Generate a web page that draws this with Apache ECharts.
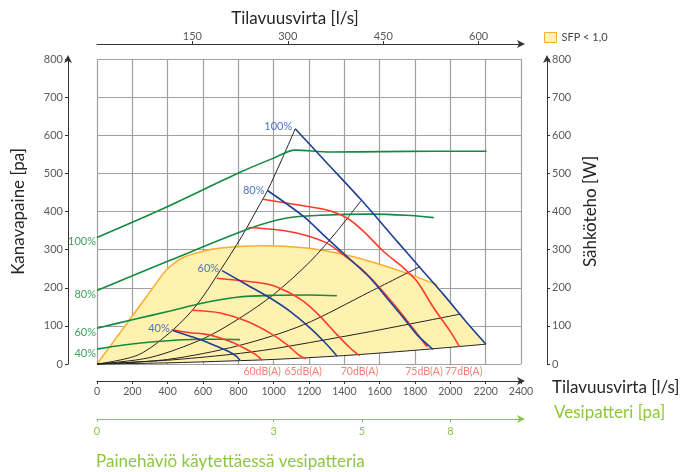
<!DOCTYPE html>
<html><head><meta charset="utf-8">
<script src="https://cdn.jsdelivr.net/npm/echarts@6/dist/echarts.min.js"></script>
<style>html,body{margin:0;padding:0;background:#fff}#c{width:680px;height:472px}</style>
</head><body><div id="c"></div>
<script>
// ---- Data (x = flow, bottom scale; y = pressure [pa] or power [W]) ----
// Fan curves (pressure) at fan speeds
const fan100 = [[1122,617],[1300,528],[1500,428],[1700,321],[1830,252],[1962,182],[2104,103],[2202,52]];
const fan80  = [[965,455],[1169,387],[1301,330],[1415,282],[1547,225],[1641,173],[1735,121],[1811,77],[1902,38]];
const fan60  = [[708,245],[848,208],[980,173],[1093,138],[1207,94],[1301,51],[1358,21]];
const fan40  = [[429,88],[527,73],[602,61],[700,42],[753,31],[790,20],[810,9]];
const fanLabels = ['100%','80%','60%','40%'];

// Electric power curves [W]
const power100 = [[0,332],[357,404],[810,503],[1000,540],[1120,561],[1320,556],[1620,557],[1900,558],[2205,558]];
const power80  = [[0,193],[414,272],[867,356],[1075,383],[1263,390],[1547,393],[1750,390],[1906,384]];
const power60  = [[0,94],[200,116],[414,139],[600,160],[791,175],[980,180],[1200,181],[1358,179]];
const power40  = [[0,39],[150,50],[338,59],[583,65],[700,65],[810,64]];
const powerLabels = ['100%','80%','60%','40%'];

// Sound level curves
const db60 = [[423,90],[527,82],[602,79],[680,71],[772,56],[848,38],[900,24],[935,10]];
const db65 = [[537,141],[697,134],[848,112],[980,81],[1075,51],[1141,24],[1184,14]];
const db70 = [[678,225],[848,217],[980,208],[1075,190],[1169,164],[1263,125],[1358,77],[1433,42],[1486,22]];
const db75 = [[857,358],[1018,352],[1169,339],[1301,317],[1396,286],[1490,252],[1585,208],[1698,147],[1773,103],[1868,45]];
const db77 = [[939,432],[1169,415],[1301,404],[1415,383],[1509,348],[1622,295],[1735,252],[1811,217],[1906,147],[2000,85],[2053,45]];
const dbLabels = ['60dB(A)','65dB(A)','70dB(A)','75dB(A)','77dB(A)'];

// System curves
const sys1 = [[0,0],[234,24],[429,89],[565,155],[697,245],[820,335],[905,405],[965,455],[1040,530],[1122,617]];
const sys2 = [[0,0],[300,17],[600,66],[800,118],[999,182],[1207,269],[1358,348],[1494,428]];
const sys3 = [[0,0],[400,12],[800,48],[1169,103],[1547,190],[1830,256]];
const sys4 = [[0,0],[400,10],[754,25],[1000,40],[1547,85],[2057,131]];
const sys5 = [[0,0],[400,3],[754,8],[1000,12],[1396,22],[1800,36],[2202,52]];

// SFP < 1,0 region upper boundary
const sfpUpper = [[0,0],[140,88],[281,177],[395,248],[489,280],[602,296],[700,304],[942,310],[1169,305],[1358,291],[1547,269],[1735,241],[1925,208]];

// Water coil pressure-drop axis
const waterTickFlow = [0,1000,1500,2000];
const waterTickLabels = ['0','3','5','8'];

// ---- Styling ----
const FONT = 'Lato';
const C_BLUE = '#1d3f94', C_BLUE_T = '#4a74c4';
const C_GREEN = '#138a3e', C_GREEN_T = '#3da35d';
const C_RED = '#ff3a2b', C_RED_T = '#f4604f';
const C_BLACK = '#222';
const C_ORANGE = '#f7ae2e', C_YELLOW = '#fff2b0';
const C_LIGHTGREEN = '#8dc63f';
const dbLabelNudge = [0, -3, 0, -3, 4]; // horizontal label nudges (px)

const sfpLast = sfpUpper[sfpUpper.length - 1][0];
const sfpPolygon = sfpUpper
  .concat(fan100.filter(p => p[0] > sfpLast))
  .concat(sys5.slice().reverse());

function withStartLabel(points, text, color, dist, off) {
  return points.map((p, i) => i === 0 ? {
    value: p,
    label: { show: true, position: 'left', distance: dist, offset: off, formatter: text,
             color: color, fontSize: 11, fontFamily: FONT }
  } : p);
}
function lineSeries(name, data, color, width, yIdx, z) {
  return { type: 'line', name: name, data: data, xAxisIndex: 0, yAxisIndex: yIdx,
    showSymbol: true, showAllSymbol: true, symbol: 'circle', symbolSize: 0,
    smooth: 0.3, z: z, silent: true, clip: false,
    lineStyle: { color: color, width: width }, itemStyle: { color: color } };
}

const series = [];
series.push({
  type: 'custom', name: 'SFP < 1,0', xAxisIndex: 0, yAxisIndex: 0, z: 1, silent: true,
  data: sfpPolygon,
  renderItem: function (params, api) {
    if (params.dataIndex !== 0) return null;
    return { type: 'polygon', shape: { points: sfpPolygon.map(p => api.coord(p)) },
             style: { fill: C_YELLOW } };
  }
});
series.push({ type: 'line', data: sfpUpper, xAxisIndex: 0, yAxisIndex: 0, symbol: 'none', z: 2,
  smooth: 0.25, silent: true, lineStyle: { color: C_ORANGE, width: 1.5 } });

[sys1, sys2, sys3, sys4, sys5].forEach((s, i) => series.push(lineSeries('sys' + i, s, C_BLACK, 1, 0, 3)));

const powers = [power100, power80, power60, power40];
powers.forEach((p, i) => series.push(lineSeries('pow' + i,
  withStartLabel(p, powerLabels[i], C_GREEN_T, 1, [0, 4]), C_GREEN, 1.6, 1, 4)));

const fans = [fan100, fan80, fan60, fan40];
const fanLabelOff = [[0, -2], [0, 0], [0, -2], [0, -2]];
fans.forEach((f, i) => series.push(lineSeries('fan' + i,
  withStartLabel(f, fanLabels[i], C_BLUE_T, 3, fanLabelOff[i]), C_BLUE, 1.6, 0, 6)));

const dbs = [db60, db65, db70, db75, db77];
dbs.forEach((d, i) => series.push(lineSeries('db' + i, d, C_RED, 1.6, 0, 5)));

// dB labels under the end of each sound curve
series.push({
  type: 'scatter', xAxisIndex: 0, yAxisIndex: 0, clip: false, silent: true, z: 7,
  symbolSize: 1, itemStyle: { color: 'rgba(0,0,0,0)' },
  data: dbs.map((d, i) => ({ name: dbLabels[i], value: [d[d.length - 1][0], -19],
                             label: { offset: [dbLabelNudge[i], 0] } })),
  label: { show: true, position: 'inside', formatter: p => p.name, color: C_RED_T,
           fontSize: 10.5, fontFamily: FONT }
});

const axisCommon = (color) => ({
  axisLine: { show: true, onZero: false, lineStyle: { color: color, width: 1 }, symbol: ['none', 'arrow'],
              symbolSize: [6, 8], symbolOffset: [0, 4] },
  axisTick: { show: true, length: 3, lineStyle: { color: color } },
});
const plain = v => String(v);

const option = {
  animation: false,
  backgroundColor: '#fff',
  textStyle: { fontFamily: FONT },
  title: [
    { text: 'Tilavuusvirta [l/s]', left: 290, top: 5, textAlign: 'center',
      textStyle: { fontSize: 17, fontWeight: 'normal', color: '#262626', fontFamily: FONT } },
    { text: 'Painehäviö käytettäessä vesipatteria', left: 91, top: 448,
      textStyle: { fontSize: 17, fontWeight: 'normal', color: C_LIGHTGREEN, fontFamily: FONT } }
  ],
  legend: {
    left: 544, top: 32, padding: 0, itemWidth: 12, itemHeight: 10, itemGap: 4,
    textStyle: { fontSize: 11, color: '#444', fontFamily: FONT },
    data: [{ name: 'SFP < 1,0', icon: 'rect',
             itemStyle: { color: C_YELLOW, borderColor: C_ORANGE, borderWidth: 1 } }]
  },
  grid: { left: 97, top: 59, width: 424, height: 305, containLabel: false, outerBoundsMode: 'none' },
  xAxis: [
    Object.assign({ type: 'value', min: 0, max: 2400, interval: 200, position: 'bottom', offset: 17,
      axisLabel: { fontSize: 10.5, color: '#595959', margin: 5, fontFamily: FONT, formatter: plain },
      splitLine: { show: true, lineStyle: { color: '#a0a0a0', width: 1.2 } },
      name: 'Tilavuusvirta [l/s]', nameLocation: 'end', nameGap: 31,
      nameTextStyle: { fontSize: 17, color: '#262626', fontFamily: FONT, verticalAlign: 'top', lineHeight: 14 }
    }, axisCommon('#333')),
    Object.assign({ type: 'value', min: 0, max: 2400 / 3.6, interval: 150, position: 'top', offset: 15,
      axisLabel: { fontSize: 11, color: '#595959', margin: 2, showMinLabel: false, fontFamily: FONT, formatter: plain },
      splitLine: { show: false }
    }, axisCommon('#333')),
    Object.assign({ type: 'value', min: 0, max: 2400, position: 'bottom', offset: 55,
      axisLabel: { fontSize: 11, color: C_LIGHTGREEN, margin: 7, fontFamily: FONT,
                   customValues: waterTickFlow,
                   formatter: v => { const k = waterTickFlow.indexOf(v); return k >= 0 ? waterTickLabels[k] : ''; } },
      splitLine: { show: false },
      name: 'Vesipatteri [pa]', nameLocation: 'end', nameGap: 33,
      nameTextStyle: { fontSize: 17, color: C_LIGHTGREEN, fontFamily: FONT, verticalAlign: 'bottom', lineHeight: 12 }
    }, axisCommon(C_LIGHTGREEN), { axisTick: { show: true, length: 3, customValues: waterTickFlow,
                                               lineStyle: { color: C_LIGHTGREEN } } })
  ],
  yAxis: [
    Object.assign({ type: 'value', min: 0, max: 800, interval: 100, position: 'left', offset: 29,
      axisLabel: { fontSize: 11, color: '#595959', margin: 5, fontFamily: FONT, formatter: plain },
      splitLine: { show: true, lineStyle: { color: '#a0a0a0', width: 1.2 } },
      name: 'Kanavapaine [pa]', nameLocation: 'middle', nameGap: 41, nameRotate: 90,
      nameTextStyle: { fontSize: 17, color: '#262626', fontFamily: FONT }
    }, axisCommon('#333')),
    Object.assign({ type: 'value', min: 0, max: 800, interval: 100, position: 'right', offset: 26,
      axisLabel: { fontSize: 11, color: '#595959', margin: 5, fontFamily: FONT, formatter: plain },
      splitLine: { show: false },
      name: 'Sähköteho [W]', nameLocation: 'middle', nameGap: 30, nameRotate: 90,
      nameTextStyle: { fontSize: 17, color: '#262626', fontFamily: FONT }
    }, axisCommon('#333'))
  ],
  series: series
};

const chart = echarts.init(document.getElementById('c'), null, { renderer: 'canvas' });
chart.setOption(option);
</script>
</body></html>
